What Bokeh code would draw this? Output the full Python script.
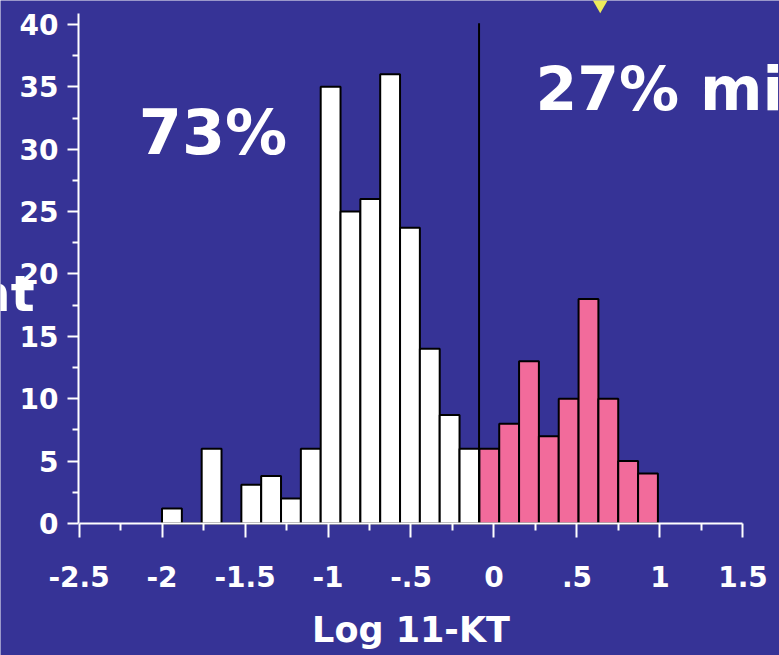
from bokeh.plotting import figure
from bokeh.models import FixedTicker, ColumnDataSource
from bokeh.core.properties import value
from bokeh.embed import file_html
from bokeh.resources import INLINE

# ---- data ----
bin_start = -2.0          # left edge of first bin (Log 11-KT)
bin_width = 0.1195
counts = [1.2, 0, 6, 0, 3.1, 3.8, 2, 6, 35, 25, 26, 36, 23.7, 14, 8.7, 6,
          6, 8, 13, 7, 10, 18, 10, 5, 4]
split_index = 16          # bins from here on are the pink group
threshold = -0.09         # vertical cut line
threshold_top = 40.1
x_ticks = [-2.5, -2, -1.5, -1, -0.5, 0, 0.5, 1, 1.5]
x_tick_labels = ["-2.5", "-2", "-1.5", "-1", "-.5", "0", ".5", "1", "1.5"]
x_minor = [-2.25, -1.75, -1.25, -0.75, -0.25, 0.25, 0.75, 1.25]
y_ticks = [0, 5, 10, 15, 20, 25, 30, 35, 40]
y_minor = [2.5, 7.5, 12.5, 17.5, 22.5, 27.5, 32.5, 37.5]
y_axis_at = -2.503
x_axis_at = 0
left_pct = "73%"
right_pct = "27% mi"
x_title = "Log 11-KT"
y_title_part = "nt"
arrow_x = [0.64]
arrow_y = [41.92]

BG = "#363396"
PINK = "#F26B9B"
FONT = "DejaVu Sans"

lefts = [bin_start + i * bin_width for i in range(len(counts))]
rights = [l + bin_width for l in lefts]
white = ColumnDataSource(dict(left=lefts[:split_index], right=rights[:split_index],
                              top=counts[:split_index]))
pink = ColumnDataSource(dict(left=lefts[split_index:], right=rights[split_index:],
                             top=counts[split_index:]))

p = figure(width=779, height=655, output_backend="svg", toolbar_location=None,
           x_range=(-2.973, 1.72), y_range=(-10.58, 41.92),
           min_border_left=0, min_border_right=0, min_border_top=0,
           min_border_bottom=0)
p.background_fill_color = BG
p.border_fill_color = BG
p.outline_line_color = None
p.grid.visible = False

p.quad(left="left", right="right", bottom=0, top="top", source=white,
       fill_color="white", line_color="black", line_width=2)
p.quad(left="left", right="right", bottom=0, top="top", source=pink,
       fill_color=PINK, line_color="black", line_width=2)
p.segment(x0=[threshold], y0=[0], x1=[threshold], y1=[threshold_top],
          line_color="black", line_width=2)
p.scatter(x=arrow_x, y=arrow_y, marker="inverted_triangle", size=22,
          fill_color="#EDEB5A", line_color=None)

# axes styling
xa = p.xaxis[0]
xa.ticker = FixedTicker(ticks=x_ticks, minor_ticks=x_minor)
xa.major_label_overrides = {t: s for t, s in zip(x_ticks, x_tick_labels)}
xa.bounds = (-2.5, 1.5)
xa.fixed_location = x_axis_at
xa.axis_label = x_title
ya = p.yaxis[0]
ya.ticker = FixedTicker(ticks=y_ticks, minor_ticks=y_minor)
ya.bounds = (0, 40.9)
ya.fixed_location = y_axis_at
for ax in (xa, ya):
    ax.axis_line_color = "white"
    ax.axis_line_width = 2
    ax.major_tick_line_color = "white"
    ax.major_tick_line_width = 2
    ax.minor_tick_line_color = "white"
    ax.minor_tick_line_width = 2
    ax.major_tick_in = 0
    ax.minor_tick_in = 0
    ax.major_label_text_color = "white"
    ax.major_label_text_font = FONT
    ax.major_label_text_font_style = "bold"
    ax.major_label_text_font_size = "28px"
xa.major_tick_out = 14
xa.minor_tick_out = 7
xa.major_label_standoff = 28
xa.axis_label_text_color = "white"
xa.axis_label_text_font = FONT
xa.axis_label_text_font_style = "bold"
xa.axis_label_text_font_size = "35px"
xa.axis_label_standoff = 20
ya.major_tick_out = 11
ya.minor_tick_out = 6
ya.major_label_standoff = 9

p.text(x=[-2.14], y=[31.3], text=[left_pct], text_color="white",
       text_font=value(FONT), text_font_style="bold", text_font_size="62px",
       text_baseline="alphabetic", text_align="left")
p.text(x=[0.25], y=[34.8], text=[right_pct], text_color="white",
       text_font=value(FONT), text_font_style="bold", text_font_size="60px",
       text_baseline="alphabetic", text_align="left")
p.text(x=[-2.768], y=[18.4], text=[y_title_part], text_color="white",
       text_font=value(FONT), text_font_style="bold", text_font_size="50px",
       text_baseline="alphabetic", text_align="right")

open("out.html", "w").write(file_html(p, INLINE))
